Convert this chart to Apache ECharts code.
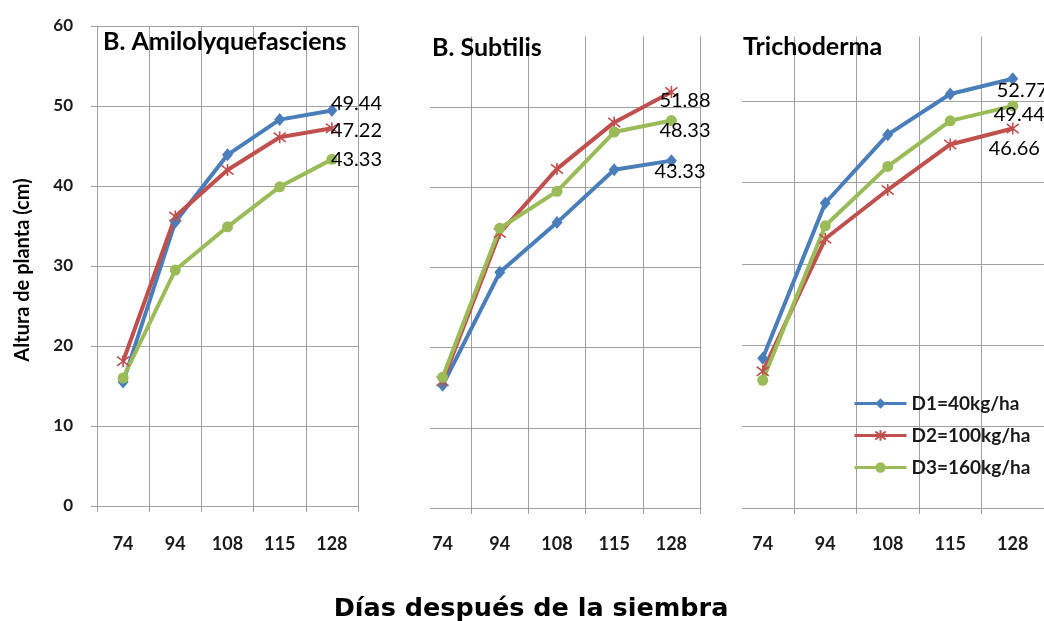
<!DOCTYPE html>
<html>
<head>
<meta charset="utf-8">
<title>Altura de planta</title>
<script src="https://cdn.jsdelivr.net/npm/echarts@6/dist/echarts.min.js"></script>
<style>
  html, body { margin: 0; padding: 0; background: #ffffff; }
  #chart { width: 1044px; height: 621px; }
</style>
</head>
<body>
<div id="chart"></div>
<script>
// Days after sowing (category ticks)
const categories = ['74', '94', '108', '115', '128'];
const yTicks = { min: 0, max: 60, step: 10 };

const panelTitles = ['B. Amilolyquefasciens', 'B. Subtilis', 'Trichoderma'];
const seriesNames = ['D1=40kg/ha', 'D2=100kg/ha', 'D3=160kg/ha'];

// Plant height (cm), B. Amilolyquefasciens
const amiloD1 = [15.5, 35.5, 43.9, 48.3, 49.44];
const amiloD2 = [18.1, 36.2, 42.0, 46.1, 47.22];
const amiloD3 = [16.0, 29.5, 34.9, 39.9, 43.33];

// Plant height (cm), B. Subtilis
const subtD1 = [15.3, 29.4, 35.6, 42.2, 43.33];
const subtD2 = [15.8, 34.3, 42.3, 48.1, 51.88];
const subtD3 = [16.3, 34.9, 39.5, 46.9, 48.33];

// Plant height (cm), Trichoderma
const trichD1 = [18.4, 37.5, 45.9, 50.9, 52.77];
const trichD2 = [16.8, 33.1, 39.1, 44.7, 46.66];
const trichD3 = [15.7, 34.7, 42.0, 47.6, 49.44];

const panelData = [
  [amiloD1, amiloD2, amiloD3],
  [subtD1, subtD2, subtD3],
  [trichD1, trichD2, trichD3]
];

// ---- layout & styling ----
const colors = ['#4a7ebb', '#c0504d', '#9bbb59'];
const starPath = 'path://M0,0L10,10M10,0L0,10M5,-1.5L5,11.5';
const symbols = ['diamond', starPath, 'circle'];
const symbolSizes = [[11, 13], 12, 11];
const gridColor = '#a0a0a0';
const textColor = '#1a1a1a';

const grids = [
  { left: 97, top: 26, width: 261, height: 480 },
  { left: 414, top: 27, width: 286, height: 481 },
  { left: 731.5, top: 20, width: 313, height: 488 }
];
// offsets of the end-of-line value labels, per panel and series (D1, D2, D3)
const endLabelOffsets = [
  [[-1, -7], [-1, 2], [-1, 0]],
  [[-17, 11], [-12, 8], [-12, 10]],
  [[-16, 12], [-24, 20], [-19, 9]]
];

const xAxes = grids.map((g, i) => ({
  type: 'category',
  gridIndex: i,
  data: categories,
  boundaryGap: true,
  axisLine: { show: true, lineStyle: { color: gridColor, width: 1 } },
  axisTick: { show: true, length: 6, lineStyle: { color: gridColor } },
  axisLabel: {
    margin: i === 0 ? 29 : 27,
    color: textColor,
    fontFamily: 'Lato',
    fontWeight: 'bold',
    fontSize: 18
  },
  splitLine: { show: true, lineStyle: { color: gridColor, width: 1 } }
}));

const yAxes = grids.map((g, i) => ({
  type: 'value',
  gridIndex: i,
  min: yTicks.min,
  max: yTicks.max,
  interval: yTicks.step,
  axisLine: { show: i === 0, lineStyle: { color: gridColor, width: 1 } },
  axisTick: { show: i === 0, length: 6, lineStyle: { color: gridColor } },
  axisLabel: {
    show: i === 0,
    margin: 24,
    color: textColor,
    fontFamily: 'Lato',
    fontWeight: 'bold',
    fontSize: 17
  },
  splitLine: { show: true, lineStyle: { color: gridColor, width: 1 } }
}));

const series = [];
panelData.forEach((group, p) => {
  group.forEach((values, s) => {
    const last = values.length - 1;
    series.push({
      name: seriesNames[s],
      type: 'line',
      xAxisIndex: p,
      yAxisIndex: p,
      symbol: symbols[s],
      symbolSize: symbolSizes[s],
      showAllSymbol: true,
      lineStyle: { color: colors[s], width: 4 },
      itemStyle: { color: colors[s], borderColor: colors[s], borderWidth: s === 1 ? 1.6 : 0 },
      emphasis: { disabled: true },
      data: values.map((v, k) => k === last ? {
        value: v,
        label: {
          show: true,
          position: 'inside',
          align: 'left',
          verticalAlign: 'middle',
          offset: endLabelOffsets[p][s],
          formatter: String(v),
          color: '#000',
          fontFamily: 'Lato',
          fontSize: 20
        }
      } : v)
    });
  });
});

// white masks: the neighbouring plot areas overlap the edges of panels 2 and 3
const masks = [
  { x: 384, y: 0, w: 46, h: 520 },
  { x: 430, y: 0, w: 273, h: 36.5 },
  { x: 712, y: 0, w: 30, h: 520 },
  { x: 742, y: 0, w: 302, h: 36.5 }
].map(r => ({
  type: 'rect', z: 50,
  shape: { x: r.x, y: r.y, width: r.w, height: r.h },
  style: { fill: '#ffffff' }
}));

const titlePos = [[103, 42], [432, 48], [743, 47]];
const titleTexts = panelTitles.map((t, i) => ({
  type: 'text', z: 60,
  x: titlePos[i][0], y: titlePos[i][1],
  style: {
    text: t, fill: '#000',
    font: 'bold 25px Lato',
    textAlign: 'left', textVerticalAlign: 'middle'
  }
}));

const option = {
  backgroundColor: '#ffffff',
  animation: false,
  grid: grids,
  xAxis: xAxes,
  yAxis: yAxes,
  legend: {
    data: seriesNames,
    orient: 'vertical',
    left: 848,
    top: 389,
    itemWidth: 52,
    itemHeight: 13,
    itemGap: 13,
    lineStyle: { width: 3 },
    textStyle: { color: textColor, fontFamily: 'Lato', fontWeight: 'bold', fontSize: 19 }
  },
  graphic: masks.concat(titleTexts, [
    {
      type: 'text', z: 60,
      x: 23, y: 270, rotation: Math.PI / 2,
      style: {
        text: 'Altura de planta (cm)', fill: '#000',
        font: 'bold 20px Lato',
        textAlign: 'center', textVerticalAlign: 'middle'
      }
    },
    {
      type: 'text', z: 60,
      x: 531, y: 609,
      style: {
        text: 'Días después de la siembra', fill: '#000',
        font: 'bold 25.5px "DejaVu Sans"',
        textAlign: 'center', textVerticalAlign: 'middle'
      }
    }
  ]),
  series: series
};

const chart = echarts.init(document.getElementById('chart'), null, { renderer: 'canvas' });
chart.setOption(option);
</script>
</body>
</html>
